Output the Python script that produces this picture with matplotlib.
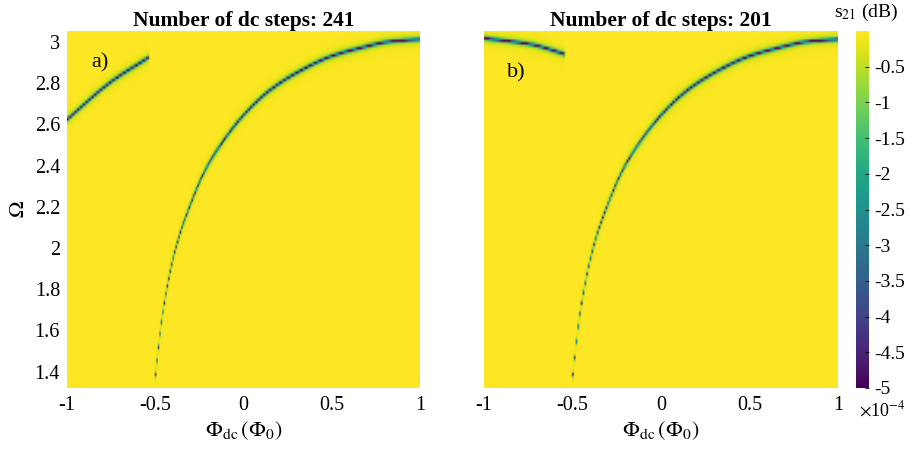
import numpy as np
import matplotlib.pyplot as plt

plt.rcParams.update({
    "font.family": "Liberation Serif",
    "mathtext.fontset": "stix",
    "font.size": 14,
})

# resonance ridge: flux (Phi_0) -> Omega
phi_main = [-0.507, -0.462, -0.388, -0.303, -0.218, -0.133, 0.0, 0.150, 0.320, 0.501, 0.660, 0.830, 1.0]
om_main = [1.325, 1.665, 1.990, 2.209, 2.379, 2.500, 2.648, 2.770, 2.864, 2.937, 2.976, 3.008, 3.019]

# upper-left branch, differs with the number of dc steps
phi_left_a = [-1.0, -0.756, -0.541]
om_left_a = [2.63, 2.81, 2.93]
phi_left_b = [-1.0, -0.74, -0.542]
om_left_b = [3.024, 2.995, 2.946]

steps = [241, 201]
panel_tags = ["a)", "b)"]

depth = 6.0      # x1e-4 dB
width = 0.005
om_lo, om_hi = 1.32, 3.054
om_step = 0.012


def pchip(x, xp, yp):
    # monotone cubic through the read points
    xp = np.asarray(xp, float)
    yp = np.asarray(yp, float)
    h = np.diff(xp)
    d = np.diff(yp) / h
    m = np.zeros_like(yp)
    for k in range(1, len(xp) - 1):
        if d[k-1] * d[k] > 0:
            w1 = 2*h[k] + h[k-1]
            w2 = h[k] + 2*h[k-1]
            m[k] = (w1 + w2) / (w1/d[k-1] + w2/d[k])
    m[0] = d[0]
    m[-1] = d[-1]
    x = np.clip(x, xp[0], xp[-1])
    k = np.clip(np.searchsorted(xp, x) - 1, 0, len(h) - 1)
    t = (x - xp[k]) / h[k]
    h00 = 2*t**3 - 3*t**2 + 1
    h10 = t**3 - 2*t**2 + t
    h01 = -2*t**3 + 3*t**2
    h11 = t**3 - t**2
    return h00*yp[k] + h10*h[k]*m[k] + h01*yp[k+1] + h11*h[k]*m[k+1]


def build_map(nstep, phi_left, om_left, main_start):
    phi = np.linspace(-1, 1, nstep)
    om = np.arange(om_lo, om_hi + om_step, om_step)
    P, O = np.meshgrid(phi, om)
    s21 = np.zeros_like(P)
    r_main = pchip(P, phi_main, om_main)
    s21 += np.where(P >= main_start, -depth * width**2 / ((O - r_main)**2 + width**2), 0)
    r_left = pchip(P, phi_left, om_left)
    s21 += np.where(P <= phi_left[-1], -depth * width**2 / ((O - r_left)**2 + width**2), 0)
    return s21, om[-1]


maps = [build_map(241, phi_left_a, om_left_a, -0.507),
        build_map(201, phi_left_b, om_left_b, -0.507)]

fig = plt.figure(figsize=(9.1, 4.59), dpi=100)
W, H = 910.0, 459.0
ax_a = fig.add_axes([67/W, 1-388/H, 353/W, 357/H])
ax_b = fig.add_axes([484/W, 1-388/H, 354/W, 357/H])
cax = fig.add_axes([856/W, 1-388/H, 13/W, 357/H])

for i, ax in enumerate([ax_a, ax_b]):
    data, top = maps[i]
    im = ax.imshow(data, origin="lower", aspect="auto", cmap="viridis",
                   vmin=-5, vmax=0, interpolation="bilinear",
                   extent=[-1, 1, om_lo, top])
    ax.set_xlim(-1, 1)
    ax.set_ylim(om_lo, om_hi)
    ax.set_xticks([-1, -0.5, 0, 0.5, 1])
    ax.set_xticklabels(["-1", "-0.5", "0", "0.5", "1"])
    ax.tick_params(length=0, labelsize=14.5, pad=6)
    for sp in ax.spines.values():
        sp.set_visible(False)
    ax.set_title("Number of dc steps: %d" % steps[i], fontweight="bold",
                 fontsize=15.5, pad=3)
    ax.set_xlabel(r"$\Phi_{\mathrm{dc}}\,(\Phi_0)$", fontsize=16, labelpad=3)

ax_a.set_yticks([1.4, 1.6, 1.8, 2, 2.2, 2.4, 2.6, 2.8, 3])
ax_a.set_yticklabels(["1.4", "1.6", "1.8", "2", "2.2", "2.4", "2.6", "2.8", "3"])
ax_a.tick_params(axis="y", pad=5)
ax_a.set_ylabel(r"$\Omega$", fontsize=16, labelpad=4)
ax_b.set_yticks([])

ax_a.text(-0.86, 2.90, panel_tags[0], fontsize=16, va="center")
ax_b.text(-0.87, 2.85, panel_tags[1], fontsize=16, va="center")

cb = fig.colorbar(im, cax=cax)
cb.set_ticks([-5, -4.5, -4, -3.5, -3, -2.5, -2, -1.5, -1, -0.5])
cb.set_ticklabels(["-5", "-4.5", "-4", "-3.5", "-3", "-2.5", "-2", "-1.5", "-1", "-0.5"])
cb.ax.tick_params(direction="in", length=3, width=0.6, labelsize=14, pad=4)
cb.outline.set_visible(False)
fig.text(866/W, 1-12/H, r"s$_{21}$ (dB)", fontsize=14, ha="center", va="center")
fig.text(905/W, 1-410/H, r"$\times$10$^{-4}$", fontsize=13, ha="right", va="center")

fig.savefig("out.png", dpi=100)
